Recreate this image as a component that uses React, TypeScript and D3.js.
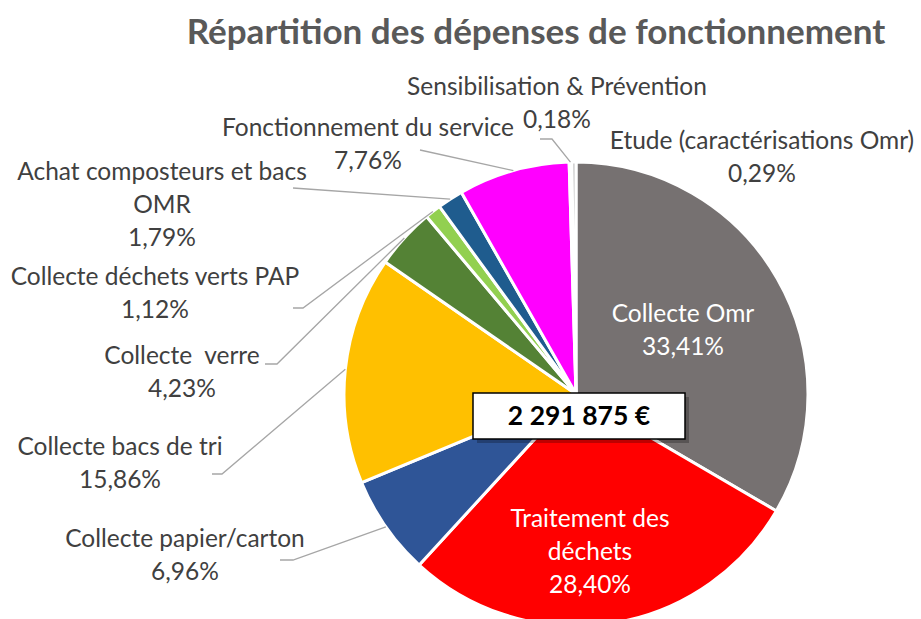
import React from 'react';
import * as d3 from 'd3';

const categories: string[] = [
  'Collecte Omr',
  'Traitement des déchets',
  'Collecte papier/carton',
  'Collecte bacs de tri',
  'Collecte  verre',
  'Collecte déchets verts PAP',
  'Achat composteurs et bacs OMR',
  'Fonctionnement du service',
  'Sensibilisation & Prévention',
  'Etude (caractérisations Omr)',
];
const shares: number[] = [33.41, 28.4, 6.96, 15.86, 4.23, 1.12, 1.79, 7.76, 0.18, 0.29];
const shareLabels: string[] = ['33,41%', '28,40%', '6,96%', '15,86%', '4,23%', '1,12%', '1,79%', '7,76%', '0,18%', '0,29%'];
const colors: string[] = ['#767171', '#FF0000', '#2F5597', '#FFC000', '#548235', '#92D050', '#1F5C8E', '#FF00FF', '#D9D9D9', '#BFBFBF'];
const totalLabel = '2 291 875 €';
const title = 'Répartition des dépenses de fonctionnement';

interface Item {
  name: string;
  value: number;
  label: string;
  color: string;
}

const items: Item[] = categories.map((name, i) => ({
  name,
  value: shares[i],
  label: shareLabels[i],
  color: colors[i],
}));

// label placement (manual, like the original chart)
const labelLayout: { lines: string[]; x: number; y: number; inside?: boolean; leader?: [number, number][] }[] = [
  { lines: ['Collecte Omr'], x: 683, y: 316, inside: true },
  { lines: ['Traitement des', 'déchets'], x: 590, y: 521, inside: true },
  { lines: ['Collecte papier/carton'], x: 185, y: 541, leader: [[280, 560], [293, 560]] },
  { lines: ['Collecte bacs de tri'], x: 120, y: 449, leader: [[212, 474], [222, 474]] },
  { lines: ['Collecte  verre'], x: 182, y: 358, leader: [[265, 364], [277, 364]] },
  { lines: ['Collecte déchets verts PAP'], x: 155, y: 279, leader: [[293, 308], [303, 308]] },
  { lines: ['Achat composteurs et bacs', 'OMR'], x: 162, y: 174, leader: [[293, 188]] },
  { lines: ['Fonctionnement du service'], x: 368, y: 130, leader: [[420, 150]] },
  { lines: ['Sensibilisation & Prévention'], x: 557, y: 89, leader: [[540, 139], [552, 139]] },
  { lines: ['Etude (caractérisations Omr)'], x: 762, y: 143 },
];

const W = 921;
const H = 619;
const cx = 576;
const cy = 394;
const radius = 232;
const lineH = 33;
const font = 'Lato, "Noto Sans", sans-serif';

const App: React.FC = () => {
  const pie = d3
    .pie<Item>()
    .sort(null)
    .value((d) => d.value);
  const arcs = pie(items);
  const arc = d3.arc<d3.PieArcDatum<Item>>().innerRadius(0).outerRadius(radius);

  return (
    <svg
      width={W}
      height={H}
      style={{ position: 'absolute', left: 0, top: 0, background: '#fff' }}
      fontFamily={font}
    >
      <text x={536} y={44} textAnchor="middle" fontSize={35} fontWeight={700} fill="#595959">
        {title}
      </text>

      <g transform={`translate(${cx},${cy})`}>
        {arcs.map((d, i) => (
          <path key={i} d={arc(d) || ''} fill={d.data.color} stroke="#fff" strokeWidth={3} strokeLinejoin="round" />
        ))}
      </g>

      {/* leader lines */}
      {arcs.map((d, i) => {
        const lay = labelLayout[i];
        if (!lay.leader) return null;
        const mid = (d.startAngle + d.endAngle) / 2;
        const ex = cx + Math.sin(mid) * radius;
        const ey = cy - Math.cos(mid) * radius;
        const pts: [number, number][] = [...lay.leader, [ex, ey]];
        return (
          <polyline
            key={i}
            points={pts.map((p) => p.join(',')).join(' ')}
            fill="none"
            stroke="#A6A6A6"
            strokeWidth={1.3}
          />
        );
      })}

      {/* labels */}
      {arcs.map((d, i) => {
        const lay = labelLayout[i];
        const lines = [...lay.lines, d.data.label];
        return (
          <text
            key={i}
            x={lay.x}
            y={lay.y}
            textAnchor="middle"
            fontSize={24.5}
            fill={lay.inside ? '#ffffff' : '#404040'}
            dominantBaseline="middle"
          >
            {lines.map((t, k) => (
              <tspan key={k} x={lay.x} dy={k === 0 ? 0 : lineH} style={{ whiteSpace: 'pre' }}>
                {t}
              </tspan>
            ))}
          </text>
        );
      })}

      {/* total box */}
      <rect x={477} y={397} width={212} height={46} fill="#000" opacity={0.25} />
      <rect x={473} y={393} width={212} height={46} fill="#fff" stroke="#000" strokeWidth={1.5} />
      <text x={579} y={418} textAnchor="middle" dominantBaseline="middle" fontSize={26.5} fontWeight={700} fill="#000">
        {totalLabel}
      </text>
    </svg>
  );
};

export default App;
